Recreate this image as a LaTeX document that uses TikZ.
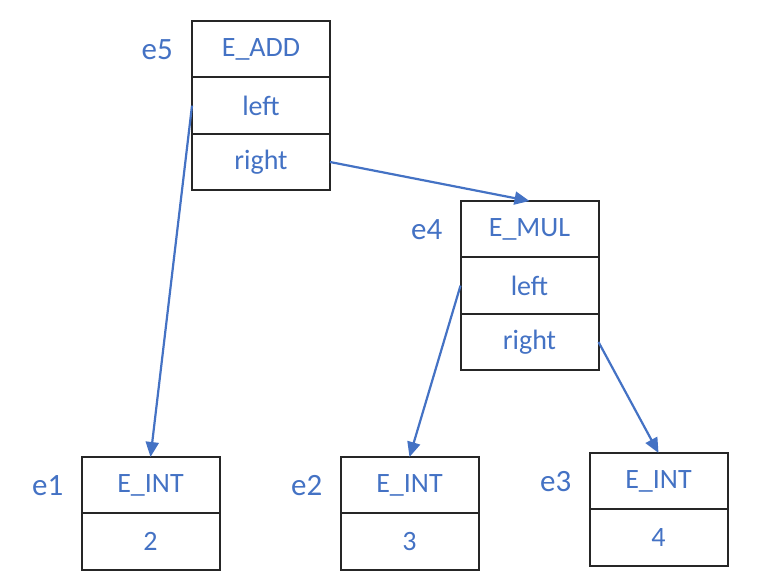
\documentclass[tikz,border=0pt]{standalone}
\usepackage{fontspec}
\setmainfont{Carlito}
\usetikzlibrary{positioning,arrows.meta}
\definecolor{ofblue}{HTML}{4472C4}

\begin{document}
\begin{tikzpicture}[x=1pt,y=-1pt]

  \useasboundingbox (0,0) rectangle (762,583);

  % node styles
  \tikzstyle{Cell}=[
  shape=rectangle,draw=black!85,
  line width=2pt,
  minimum width=138pt,minimum height=56.4pt,
  inner sep=0pt,outer sep=0pt,
  text=ofblue,
  font=\fontsize{28}{32}\selectfont]

  \tikzstyle{Label}=[inner sep=0pt,text=ofblue,font=\fontsize{31}{34}\selectfont]

  \tikzstyle{Link}=[draw=ofblue,line width=2.2pt,-{Triangle[length=15pt,width=13pt]}]

  % e5
  \node[Cell] (E5)  at (261,49.2) {E\_ADD};
  \node[Cell,below=0pt of E5]  (E5L) {left};
  \node[Cell,below=0pt of E5L] (E5R) {right};
  \node[Label,left=19pt of E5] (L5) {e5};

  % e4
  \node[Cell] (E4)  at (529.5,229.2) {E\_MUL};
  \node[Cell,below=0pt of E4]  (E4L) {left};
  \node[Cell,below=0pt of E4L] (E4R) {right};
  \node[Label,left=18pt of E4] (L4) {e4};

  % leaves
  \node[Cell] (E1)  at (150.5,485.2) {E\_INT};
  \node[Cell,below=0pt of E1] (E1V) {2};
  \node[Label,left=18pt of E1] (L1) {e1};

  \node[Cell] (E2)  at (409.5,485.2) {E\_INT};
  \node[Cell,below=0pt of E2] (E2V) {3};
  \node[Label,left=18pt of E2] (L2) {e2};

  \node[Cell] (E3)  at (658.5,481.2) {E\_INT};
  \node[Cell,below=0pt of E3] (E3V) {4};
  \node[Label,left=18pt of E3] (L3) {e3};

  \draw[Link] (E5L.west) -- (E1.north);
  \draw[Link] (E5R.east) -- (E4.north);
  \draw[Link] (E4L.west) -- (E2.north);
  \draw[Link] (E4R.east) -- (E3.north);

\end{tikzpicture}
\end{document}
